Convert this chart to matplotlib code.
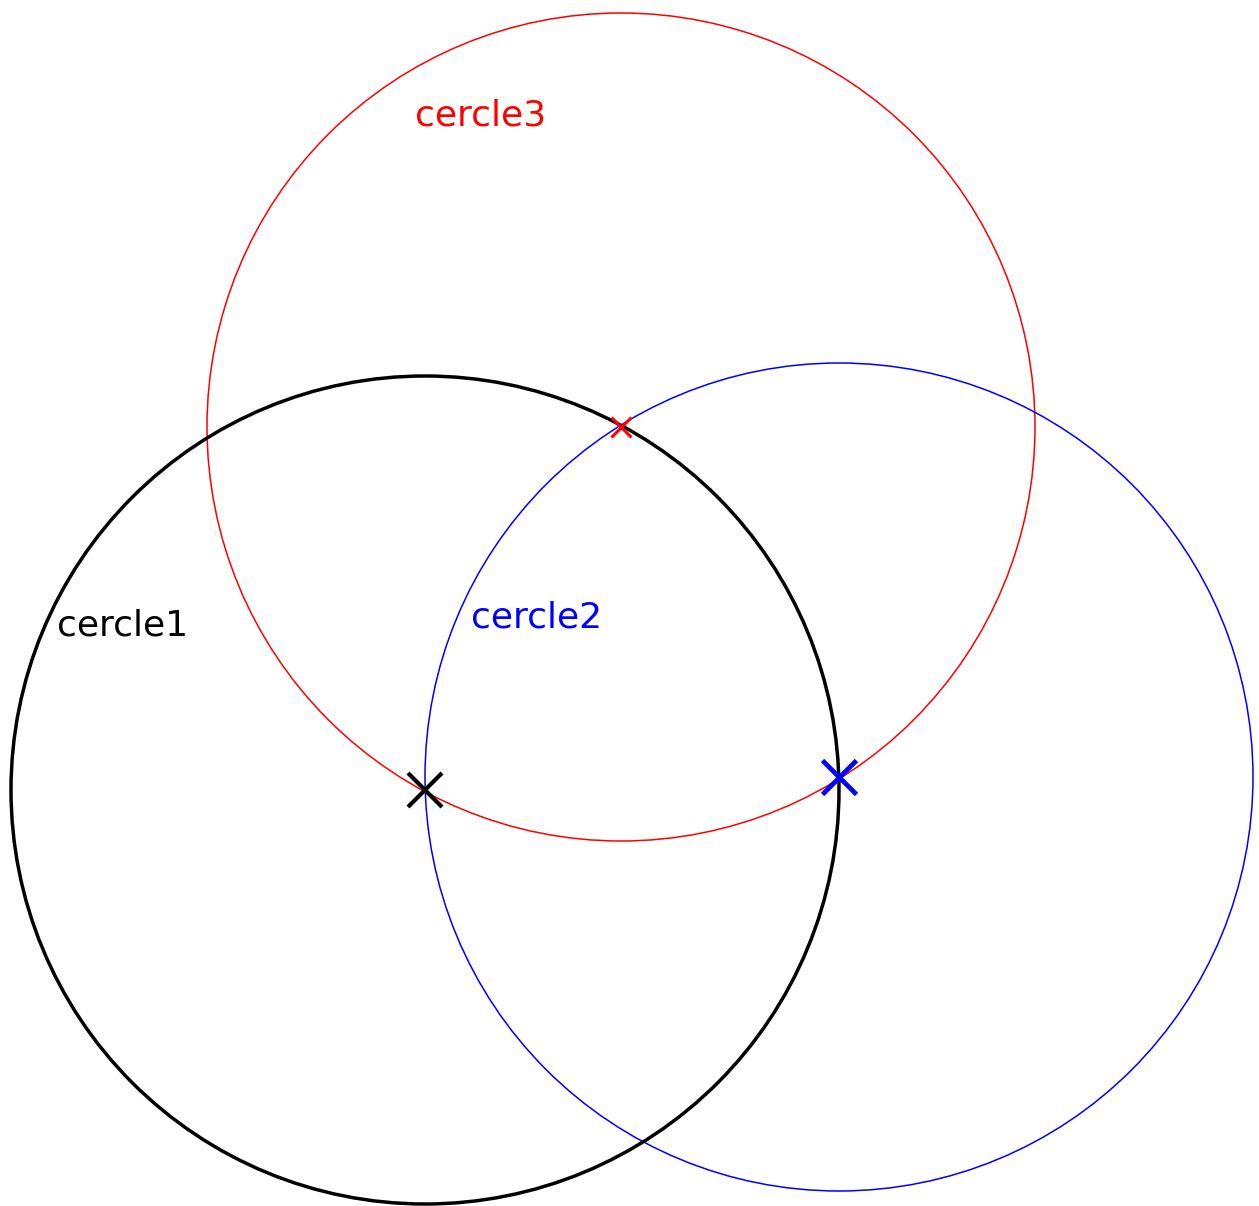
import matplotlib
matplotlib.use('Agg')
import matplotlib.pyplot as plt
from matplotlib.patches import Circle

# circle centres (pixel coordinates, y downwards) and common radius
names = ['cercle1', 'cercle2', 'cercle3']
cx = [425, 839, 621]
cy = [790, 777, 427]
radius = 414
colors = ['black', 'blue', 'red']
line_w = [2.5, 1.1, 1.1]
mark_size = [24, 25, 14]
mark_w = [3.0, 3.4, 2.2]
# label anchor (left, baseline)
lab_x = [57, 471, 415]
lab_y = [635, 628, 125]

fig = plt.figure(figsize=(12.59, 12.06), dpi=100)
ax = fig.add_axes([0, 0, 1, 1])
ax.set_xlim(0, 1259)
ax.set_ylim(1206, 0)
ax.set_aspect('equal')
ax.axis('off')

# draw order: red, blue, black on top
for i in [2, 1, 0]:
    ax.add_patch(Circle((cx[i], cy[i]), radius, fill=False,
                        edgecolor=colors[i], linewidth=line_w[i]))
for i in [2, 1, 0]:
    ax.plot(cx[i], cy[i], 'x', color=colors[i], markersize=mark_size[i],
            markeredgewidth=mark_w[i])
    ax.text(lab_x[i], lab_y[i], names[i], color=colors[i], fontsize=26,
            ha='left', va='baseline')

fig.savefig('out.png', dpi=100)
